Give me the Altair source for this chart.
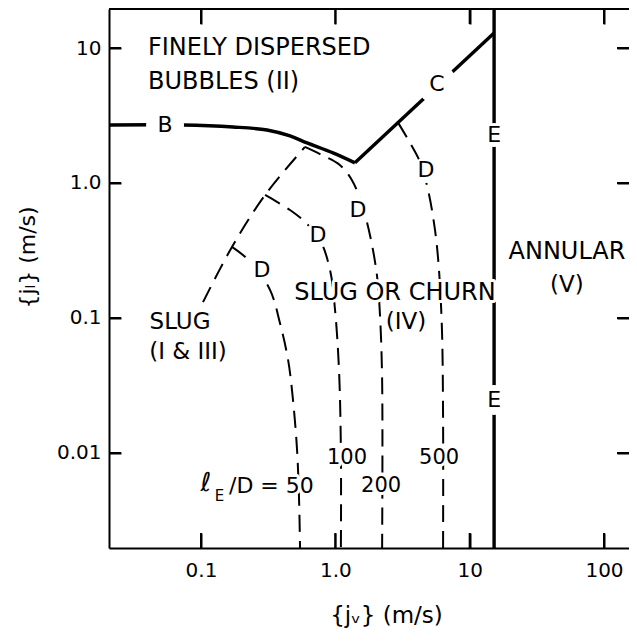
import math
import altair as alt
import pandas as pd

# ---------------- data ----------------
X_DOMAIN = [0.02066, 153.5]
Y_DOMAIN = [0.001978, 19.45]
x_ticks = [0.1, 1, 10, 100]
y_ticks = [0.01, 0.1, 1, 10]

# solid boundaries
b_x = [0.0207, 0.073, 0.173, 0.31, 0.46, 0.616, 0.96, 1.40]
b_y = [2.69, 2.69, 2.60, 2.47, 2.23, 1.98, 1.67, 1.41]
c_x = [1.40, 15.2]
c_y = [1.41, 12.9]
e_x = [15.2, 15.2]
e_y = [0.001978, 19.45]

# dashed boundaries
slug_x = [0.1035, 0.170, 0.300, 0.594]
slug_y = [0.131, 0.336, 0.815, 1.85]
d50_x = [0.170, 0.24, 0.327, 0.387, 0.445, 0.484, 0.519, 0.537, 0.546]
d50_y = [0.336, 0.255, 0.161, 0.0918, 0.0489, 0.0247, 0.0105, 0.0045, 0.001978]
d100_x = [0.300, 0.46, 0.594, 0.769, 0.913, 0.995, 1.065, 1.10, 1.10]
d100_y = [0.815, 0.631, 0.514, 0.378, 0.227, 0.115, 0.0412, 0.0105, 0.001978]
d200_x = [0.594, 0.796, 1.08, 1.33, 1.58, 1.81, 2.04, 2.15, 2.23, 2.23]
d200_y = [1.85, 1.61, 1.36, 1.05, 0.687, 0.412, 0.208, 0.105, 0.0347, 0.001978]
d500_x = [2.93, 3.60, 4.27, 4.90, 5.52, 5.91, 6.22, 6.34, 6.34]
d500_y = [2.80, 1.98, 1.43, 0.887, 0.449, 0.227, 0.0815, 0.0176, 0.001978]

# curve letters (they interrupt the curves)
letter_text = ["B", "C", "E", "E", "D", "D", "D", "D"]
letter_x = [0.0540, 5.71, 15.2, 15.2, 0.284, 0.743, 1.476, 4.73]
letter_y = [2.69, 5.41, 2.27, 0.0247, 0.227, 0.412, 0.631, 1.248]
letter_gap = [38, 40, 24, 30, 26, 26, 26, 26]

# region and parameter labels
center_text = ["ANNULAR", "(V)", "SLUG OR CHURN", "(IV)", "SLUG", "(I & III)",
               "100", "200", "500", "ℓ"]
center_x = [53.0, 53.0, 2.78, 3.36, 0.0698, 0.080,
            1.222, 2.19, 5.92, 0.1085]
center_y = [0.308, 0.1756, 0.153, 0.0934, 0.0934, 0.0560,
            0.00918, 0.0057, 0.00918, 0.0060]
center_fs = [24, 23, 24, 23, 23, 23,
             21, 21, 21, 26]

left_text = ["FINELY DISPERSED", "BUBBLES (II)", "/D = 50"]
left_x = [0.0403, 0.0403, 0.1616]
left_y = [10.0, 5.60, 0.0057]
left_fs = [24, 24, 22]

sub_text = ["E"]
sub_x = [0.1370]
sub_y = [0.00480]
sub_fs = [15]

# ---------------- build tables ----------------
W, H = 520, 539
FONT = "DejaVu Sans"


def curve(name, px, py, kind):
    return pd.DataFrame({"curve": name, "i": range(len(px)), "x": px, "y": py, "kind": kind})


lines = pd.concat([
    curve("B", b_x, b_y, "solid"),
    curve("C", c_x, c_y, "solid"),
    curve("E", e_x, e_y, "solid"),
    curve("slug", slug_x, slug_y, "dash"),
    curve("d50", d50_x, d50_y, "dash"),
    curve("d100", d100_x, d100_y, "dash"),
    curve("d200", d200_x, d200_y, "dash"),
    curve("d500", d500_x, d500_y, "dash"),
], ignore_index=True)

# inner frame ticks, derived from the tick values and the scale
xmin, xmax = X_DOMAIN
ymin, ymax = Y_DOMAIN
ppx = W / math.log10(xmax / xmin)
ppy = H / math.log10(ymax / ymin)
tk = []
for k, v in enumerate(x_ticks):
    tk.append(curve(f"tb{k}", [v, v], [ymin, ymin * 10 ** (15 / ppy)], "tick"))
    tk.append(curve(f"tt{k}", [v, v], [ymax, ymax / 10 ** (15 / ppy)], "tick"))
for k, v in enumerate(y_ticks):
    tk.append(curve(f"tl{k}", [xmin, xmin * 10 ** (12 / ppx)], [v, v], "tick"))
    tk.append(curve(f"tr{k}", [xmax / 10 ** (12 / ppx), xmax], [v, v], "tick"))
ticks_df = pd.concat(tk, ignore_index=True)

xs = alt.Scale(type="log", domain=X_DOMAIN, nice=False)
ys = alt.Scale(type="log", domain=Y_DOMAIN, nice=False)

label_expr = ("datum.value == 1 ? '1.0' : datum.value == 0.1 ? '0.1' : "
              "datum.value == 10 ? '10' : datum.value == 100 ? '100' : '0.01'")

# inner ticks on both ends of each gridline (symmetric dash pattern)
x_axis = alt.Axis(values=x_ticks, labelExpr=label_expr, ticks=False,
                  grid=True, gridColor="black", gridWidth=2, gridOpacity=1,
                  gridDash=[15, H - 30, 15, 3000],
                  domain=True, domainColor="black", domainWidth=2,
                  labelFont=FONT, labelFontSize=20, labelColor="black",
                  labelPadding=12, labelFlush=False,
                  title="{jᵥ} (m/s)", titleFont=FONT, titleFontSize=23,
                  titleFontWeight="normal", titleColor="black",
                  titleX=277, titleY=67, titleAlign="center", titleBaseline="middle")
y_axis = alt.Axis(values=y_ticks, labelExpr=label_expr, ticks=False,
                  grid=True, gridColor="black", gridWidth=2, gridOpacity=1,
                  gridDash=[12, W - 24, 12, 3000],
                  domain=True, domainColor="black", domainWidth=2,
                  labelFont=FONT, labelFontSize=20, labelColor="black",
                  labelPadding=8, labelFlush=False,
                  title="{jₗ} (m/s)", titleFont=FONT, titleFontSize=22,
                  titleFontWeight="normal", titleColor="black",
                  titleX=-82, titleY=248, titleAlign="center", titleBaseline="middle",
                  titleAngle=270)


def X(f="x:Q"):
    return alt.X(f, scale=xs, axis=x_axis)


def Y(f="y:Q"):
    return alt.Y(f, scale=ys, axis=y_axis)


base_lines = alt.Chart(lines)

solid = base_lines.transform_filter(alt.datum.kind == "solid").mark_line(
    color="black", strokeWidth=3.4, interpolate="catmull-rom", clip=True
).encode(x=X(), y=Y(), detail="curve:N", order="i:Q")

dashed = base_lines.transform_filter(alt.datum.kind == "dash").mark_line(
    color="black", strokeWidth=2, strokeDash=[17, 9], strokeCap="butt",
    interpolate="catmull-rom", clip=True
).encode(x=X(), y=Y(), detail="curve:N", order="i:Q")

ticks = alt.Chart(ticks_df).mark_line(color="black", strokeWidth=2).encode(
    x=X(), y=Y(), detail="curve:N", order="i:Q")

top_border = alt.Chart(pd.DataFrame({"x": [1]})).mark_rule(color="black", strokeWidth=2).encode(
    x=alt.value(0), x2=alt.value(W), y=alt.value(0))

letters_df = pd.DataFrame({"t": letter_text, "x": letter_x, "y": letter_y,
                           "gap": [g * g for g in letter_gap]})
gaps = alt.Chart(letters_df).mark_point(
    shape="circle", filled=True, color="white", opacity=1, strokeWidth=0
).encode(x=X(), y=Y(), size=alt.Size("gap:Q", scale=None, legend=None))
letters = alt.Chart(letters_df).mark_text(
    align="center", baseline="middle", font=FONT, fontSize=22, color="black"
).encode(x=X(), y=Y(), text="t:N")


def text_layers(texts, xv, yv, fsv, align):
    df = pd.DataFrame({"t": texts, "x": xv, "y": yv, "fs": fsv})
    enc = dict(x=X(), y=Y(), text="t:N",
               size=alt.Size("fs:Q", scale=None, legend=None))
    halo = alt.Chart(df).mark_text(align=align, baseline="middle", font=FONT,
                                   color="white", stroke="white", strokeWidth=6,
                                   strokeJoin="round").encode(**enc)
    fill = alt.Chart(df).mark_text(align=align, baseline="middle", font=FONT,
                                   color="black").encode(**enc)
    return [halo, fill]


texts = (text_layers(center_text, center_x, center_y, center_fs, "center")
         + text_layers(left_text, left_x, left_y, left_fs, "left")
         + text_layers(sub_text, sub_x, sub_y, sub_fs, "center"))

chart = alt.layer(
    dashed, solid, gaps, letters, *texts, top_border, ticks
).properties(
    width=W, height=H,
    padding={"left": 101, "top": 1, "right": 0, "bottom": 85},
    autosize=alt.AutoSizeParams(type="none"),
    background="white",
).configure_view(stroke=None)

chart.save("out.html", embed_options={"renderer": "svg", "actions": False})
